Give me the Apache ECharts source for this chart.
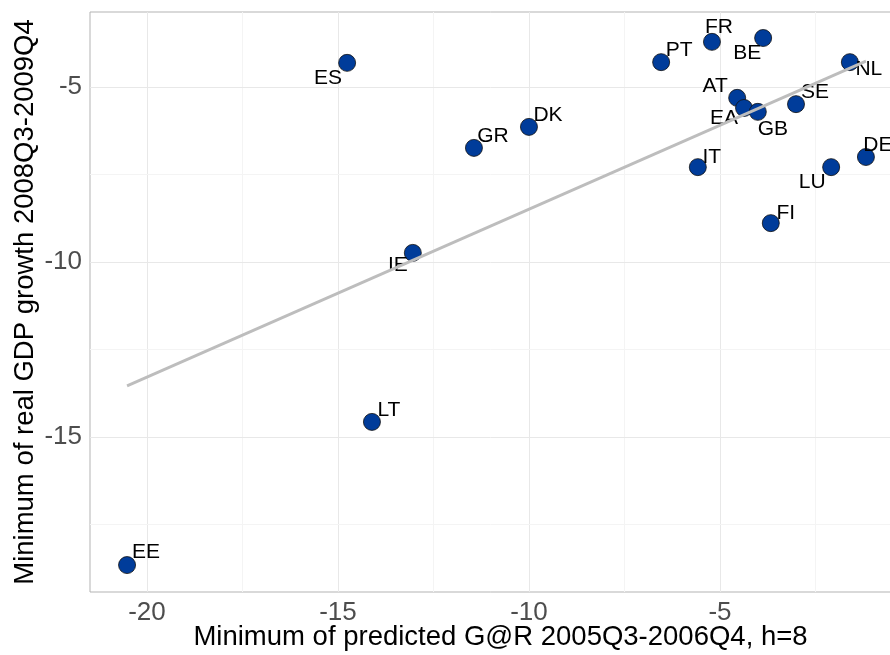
<!DOCTYPE html>
<html>
<head>
<meta charset="utf-8">
<script src="https://cdn.jsdelivr.net/npm/echarts@6/dist/echarts.min.js"></script>
<style>
html, body { margin: 0; padding: 0; background: #fff; }
#chart { width: 890px; height: 655px; }
</style>
</head>
<body>
<div id="chart"></div>
<script>
// countries and their values
var countries = ['EE', 'LT', 'IE', 'ES', 'GR', 'DK', 'PT', 'FR', 'BE', 'AT', 'EA', 'GB', 'SE', 'NL', 'IT', 'LU', 'DE', 'FI'];
var garMin = [-20.52, -14.11, -13.04, -14.76, -11.44, -10.0, -6.54, -5.21, -3.87, -4.55, -4.37, -4.01, -3.01, -1.60, -5.58, -2.09, -1.18, -3.67];
var gdpMin = [-18.66, -14.57, -9.74, -4.31, -6.74, -6.14, -4.29, -3.71, -3.60, -5.31, -5.60, -5.71, -5.49, -4.29, -7.29, -7.29, -7.00, -8.89];

// fitted line ends
var fitX = [-20.52, -1.18];
var fitY = [-13.54, -4.26];

// ticks
var xTicks = [-20, -15, -10, -5];
var yTicks = [-5, -10, -15];
var xMinor = [-17.5, -12.5, -7.5, -2.5];
var yMinor = [-7.5, -12.5, -17.5];

// where each label sits relative to its point (px)
var labelOffsets = {
    EE: [19, -13], LT: [17, -12], IE: [-15, 12], ES: [-19, 15], GR: [19, -12],
    DK: [19, -12], PT: [18, -12], FR: [7, -15], BE: [-16, 15], AT: [-22, -12],
    EA: [-20, 10], GB: [15, 17], SE: [19, -12], NL: [19, 7], IT: [14, -10],
    LU: [-19, 15], DE: [12, -12], FI: [15, -10]
};

var font = "'Liberation Sans', Arial, sans-serif";
var chart = echarts.init(document.getElementById('chart'));

var points = countries.map(function (c, i) {
    return {
        name: c,
        value: [garMin[i], gdpMin[i]],
        label: { offset: labelOffsets[c] }
    };
});

var gridLines = [];
xTicks.forEach(function (v) { gridLines.push({ xAxis: v, lineStyle: { color: '#e8e8e8', width: 1, type: 'solid' } }); });
xMinor.forEach(function (v) { gridLines.push({ xAxis: v, lineStyle: { color: '#f4f4f4', width: 1, type: 'solid' } }); });
yTicks.forEach(function (v) { gridLines.push({ yAxis: v, lineStyle: { color: '#e8e8e8', width: 1, type: 'solid' } }); });
yMinor.forEach(function (v) { gridLines.push({ yAxis: v, lineStyle: { color: '#f4f4f4', width: 1, type: 'solid' } }); });

var opt = {
    animation: false,
    textStyle: { fontFamily: font },
    grid: {
        left: 90, top: 12, width: 821, height: 580,
        outerBoundsMode: 'none',
        containLabel: false,
        show: true, borderColor: '#b3b3b3', borderWidth: 1, backgroundColor: '#fff'
    },
    xAxis: {
        type: 'value', min: -21.49, max: 0,
        name: 'Minimum of predicted G@R 2005Q3-2006Q4, h=8',
        nameLocation: 'middle', nameGap: 31, nameMoveOverlap: false,
        nameTextStyle: { fontSize: 27.5, color: '#000', fontFamily: font },
        axisLine: { show: false },
        axisTick: { show: false },
        splitLine: { show: false },
        axisLabel: { customValues: xTicks, fontSize: 26, color: '#4d4d4d', margin: 8, fontFamily: font }
    },
    yAxis: {
        type: 'value', min: -19.43, max: -2.857,
        name: 'Minimum of real GDP growth 2008Q3-2009Q4',
        nameLocation: 'middle', nameGap: 51, nameMoveOverlap: false,
        nameTextStyle: { fontSize: 27.5, color: '#000', fontFamily: font },
        axisLine: { show: false },
        axisTick: { show: false },
        splitLine: { show: false },
        axisLabel: { customValues: yTicks, fontSize: 26, color: '#4d4d4d', margin: 8, fontFamily: font }
    },
    series: [
        {
            type: 'line', data: [], silent: true, z: 1,
            markLine: { silent: true, z: 1, symbol: 'none', label: { show: false }, data: gridLines, animation: false }
        },
        {
            type: 'scatter', z: 3,
            symbolSize: 17,
            itemStyle: { color: '#003c9a', borderColor: '#111', borderWidth: 0.8, opacity: 1 },
            label: {
                show: true, position: 'inside', formatter: '{b}',
                color: '#000', fontSize: 21, fontFamily: font,
                align: 'center', verticalAlign: 'middle',
                textBorderWidth: 0, textBorderColor: 'transparent'
            },
            data: points
        },
        {
            type: 'line', z: 4, symbol: 'none', silent: true,
            lineStyle: { color: '#bdbdbd', width: 2.8 },
            data: fitX.map(function (x, i) { return [x, fitY[i]]; })
        }
    ]
};
chart.setOption(opt);
</script>
</body>
</html>
